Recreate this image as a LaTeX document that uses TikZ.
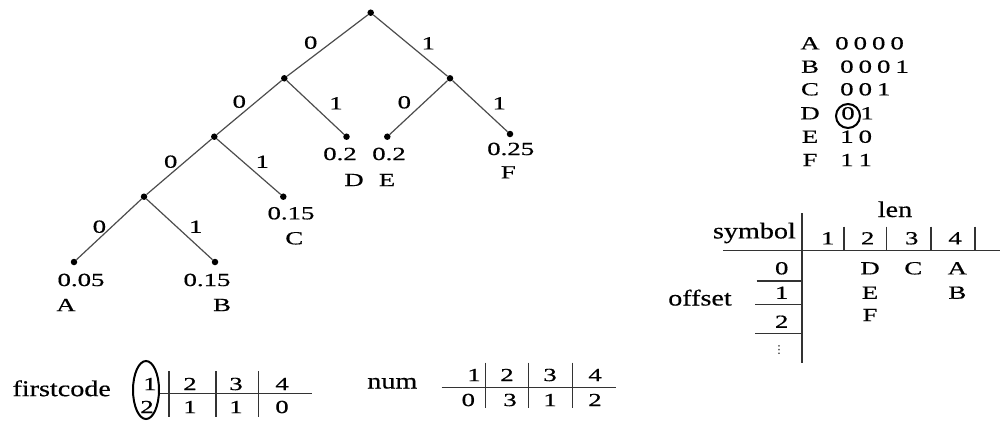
\documentclass[tikz,border=0pt]{standalone}
\usepackage{fontspec}
\setmainfont[FakeStretch=1.45,FakeBold=0.6]{Liberation Serif}
\newfontfamily\wordfont[FakeStretch=1.25,FakeBold=0.5]{Liberation Serif}
\newfontfamily\symfont{DejaVu Sans}
\usetikzlibrary{shapes.geometric}
\newcommand\dgap{\kern5pt}
\begin{document}
\begin{tikzpicture}[x=1pt,y=-1pt,
  dot/.style={circle,fill=black,inner sep=0pt,minimum size=6.5pt},
  edge/.style={draw=black!70,line width=1.2pt},
  lbl/.style={inner sep=0pt,font=\fontsize{18.5}{22}\selectfont},
  word/.style={inner sep=0pt,font=\wordfont\fontsize{22.5}{26}\selectfont},
  rule/.style={draw=black!80,line width=1.4pt},
  ring/.style={draw=black,line width=2pt,inner sep=0pt}]
\useasboundingbox (0,0) rectangle (1000,421);
% ---------------- tree ----------------
\node[dot] (r)    at (370.7,12.7) {};
\node[dot] (n0)   at (284.3,78.3) {};
\node[dot] (n1)   at (450,78.3) {};
\node[dot] (n00)  at (214.3,136.7) {};
\node[dot] (lD)   at (346.5,136.7) {};
\node[dot] (lE)   at (387.3,136.7) {};
\node[dot] (lF)   at (510,134) {};
\node[dot] (n000) at (144,196.7) {};
\node[dot] (lC)   at (283.3,196.7) {};
\node[dot] (lA)   at (74,262) {};
\node[dot] (lB)   at (215,262) {};
\draw[edge] (r) -- (n0);
\draw[edge] (r) -- (n1);
\draw[edge] (n0) -- (n00);
\draw[edge] (n0) -- (lD);
\draw[edge] (n1) -- (lE);
\draw[edge] (n1) -- (lF);
\draw[edge] (n00) -- (n000);
\draw[edge] (n00) -- (lC);
\draw[edge] (n000) -- (lA);
\draw[edge] (n000) -- (lB);
\node[lbl] (e1)  at (310.7,42.7) {0};
\node[lbl] (e2)  at (428.3,43.3) {1};
\node[lbl] (e3)  at (239.3,101.7) {0};
\node[lbl] (e4)  at (336,103.3) {1};
\node[lbl] (e5)  at (404.3,102.3) {0};
\node[lbl] (e6)  at (499.3,103.3) {1};
\node[lbl] (e7)  at (170.7,161.7) {0};
\node[lbl] (e8)  at (262.3,161.7) {1};
\node[lbl] (e9)  at (99.4,226.7) {0};
\node[lbl] (e10) at (195.7,226.7) {1};
\node[lbl] (pA) at (81,280) {0.05};   \node[lbl] (tA) at (66,305) {A};
\node[lbl] (pB) at (207,280) {0.15};  \node[lbl] (tB) at (222,305) {B};
\node[lbl] (pC) at (291,213.3) {0.15};\node[lbl] (tC) at (294.3,238.3) {C};
\node[lbl] (pD) at (340,154) {0.2};   \node[lbl] (tD) at (354,180) {D};
\node[lbl] (pE) at (389,154) {0.2};   \node[lbl] (tE) at (387,180) {E};
\node[lbl] (pF) at (510.7,149) {0.25};\node[lbl] (tF) at (508.3,172.3) {F};
% ---------------- code list ----------------
\node[lbl] (cA) at (810,43.3) {A};
\node[lbl] (cB) at (810,66.7) {B};
\node[lbl] (cC) at (810,89.3) {C};
\node[lbl] (cD) at (810,113.3) {D};
\node[lbl] (cE) at (810,136.7) {E};
\node[lbl] (cF) at (810,160) {F};
\node[lbl,anchor=west] (kA) at (835,43.3) {0\dgap0\dgap0\dgap0};
\node[lbl,anchor=west] (kB) at (840,66.7) {0\dgap0\dgap0\dgap1};
\node[lbl,anchor=west] (kC) at (840,89.3) {0\dgap0\dgap1};
\node[lbl] (kD0) at (848,113.3) {0};
\node[lbl] (kD1) at (867,113.3) {1};
\node[ring,circle,minimum size=24pt] (kDring) at (848,116) {};
\node[lbl,anchor=west] (kE) at (840,136.7) {1\dgap0};
\node[lbl,anchor=west] (kF) at (840,160) {1\dgap1};
% ---------------- len / offset table ----------------
\draw[rule] (802,213) -- (802,363);
\draw[rule] (723,250.7) -- (1000,250.7);
\foreach \xx in {844,886.7,931,975} \draw[rule] (\xx,226.7) -- (\xx,250.7);
\node[word,anchor=east] (sym) at (796,233) {symbol};
\node[word] (len) at (895,209.3) {len};
\node[lbl] (h1) at (827.7,238.3) {1};
\node[lbl] (h2) at (867.7,238.3) {2};
\node[lbl] (h3) at (911.7,238.3) {3};
\node[lbl] (h4) at (955,238.3) {4};
\node[word] (off) at (700,297.7) {offset};
\node[lbl] (o0) at (781.7,268.3) {0};
\node[lbl] (o1) at (781.7,292.7) {1};
\node[lbl] (o2) at (781.7,321.7) {2};
\node[inner sep=0pt,font=\symfont\fontsize{11}{13}\selectfont] (o3) at (779,350) {⋮};
\draw[rule] (756.7,281) -- (802,281);
\draw[rule] (755,304.3) -- (802,304.3);
\draw[rule] (755,333.3) -- (802,333.3);
\node[lbl] (sD) at (870,268.3) {D};
\node[lbl] (sC) at (913.3,268.3) {C};
\node[lbl] (sA) at (957.3,268.3) {A};
\node[lbl] (sE) at (870,292.7) {E};
\node[lbl] (sB) at (957.3,292.7) {B};
\node[lbl] (sF) at (870,315) {F};
% ---------------- firstcode ----------------
\node[word] (fc) at (61.7,388.3) {firstcode};
\node[ring,ellipse,minimum width=26pt,minimum height=58pt] (fring) at (146,390) {};
\draw[rule] (160,393.3) -- (312,393.3);
\foreach \xx in {169,216,258.5} \draw[rule] (\xx,371) -- (\xx,417);
\node[lbl] (f1) at (150,384) {1};
\node[lbl] (f2) at (190,384) {2};
\node[lbl] (f3) at (236,384) {3};
\node[lbl] (f4) at (282,384) {4};
\node[lbl] (g1) at (147,407) {2};
\node[lbl] (g2) at (190,407) {1};
\node[lbl] (g3) at (236,407) {1};
\node[lbl] (g4) at (282,407) {0};
% ---------------- num ----------------
\node[word] (num) at (392.3,383.3) {num};
\draw[rule] (441.7,387.3) -- (616,387.3);
\foreach \xx in {485.7,528.3,572.7} \draw[rule] (\xx,362.7) -- (\xx,408);
\node[lbl] (m1) at (474,375) {1};
\node[lbl] (m2) at (507,375) {2};
\node[lbl] (m3) at (550,375) {3};
\node[lbl] (m4) at (595,375) {4};
\node[lbl] (q1) at (468.3,400) {0};
\node[lbl] (q2) at (510,400) {3};
\node[lbl] (q3) at (550,400) {1};
\node[lbl] (q4) at (595,400) {2};
\end{tikzpicture}
\end{document}
